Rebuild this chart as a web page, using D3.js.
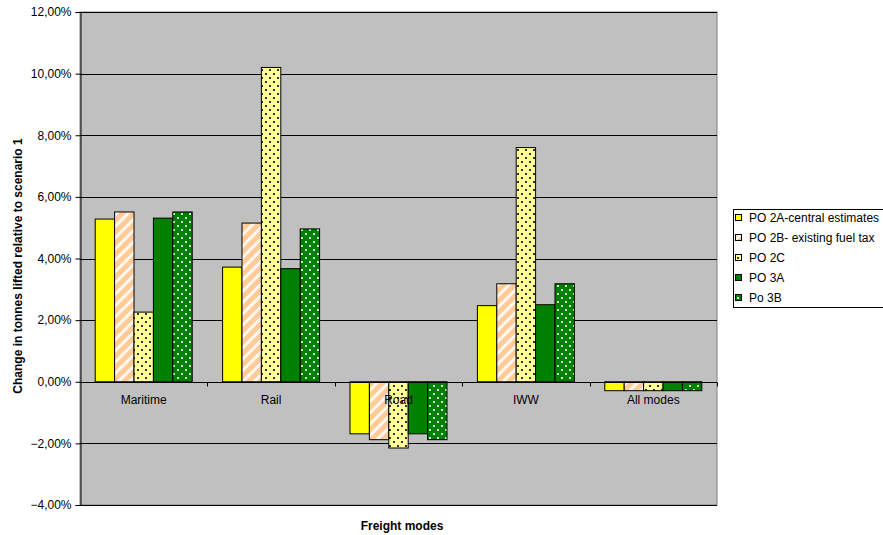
<!DOCTYPE html>
<html><head><meta charset="utf-8">
<script src="https://cdn.jsdelivr.net/npm/d3@7"></script>
<style>body{margin:0;background:#fff}svg{display:block}text{font-family:"Liberation Sans",Arial,sans-serif}</style>
</head><body><svg id="c" width="883" height="535"></svg>
<script>
const categories = ["Maritime","Rail","Road","IWW","All modes"];
const seriesNames = ["PO 2A-central estimates","PO 2B- existing fuel tax","PO 2C","PO 3A","Po 3B"];
const po2A = [5.28, 3.72, -1.69, 2.47, -0.29];
const po2B = [5.51, 5.15, -1.88, 3.18, -0.29];
const po2C = [2.26, 10.2, -2.15, 7.6, -0.29];
const po3A = [5.31, 3.67, -1.69, 2.5, -0.29];
const po3B = [5.51, 4.96, -1.88, 3.18, -0.29];
const yTicks = [-4,-2,0,2,4,6,8,10,12];

const series = [po2A, po2B, po2C, po3A, po3B];
const fills = ["#FFFF00","url(#hatch)","url(#dots)","#008000","url(#wdots)"];

const svg = d3.select("#c");
const L=80, R=717, T=12, B=505;
const defs = svg.append("defs");
const h = defs.append("pattern").attr("id","hatch").attr("patternUnits","userSpaceOnUse").attr("width",8).attr("height",8).attr("patternTransform","rotate(45)");
h.append("rect").attr("width",8).attr("height",8).attr("fill","#FFCC99");
h.append("rect").attr("x",0).attr("width",3).attr("height",8).attr("fill","#FFFFFF").attr("opacity",0.85);
const d = defs.append("pattern").attr("id","dots").attr("patternUnits","userSpaceOnUse").attr("width",8).attr("height",8);
d.append("rect").attr("width",8).attr("height",8).attr("fill","#FFFF99");
d.append("rect").attr("x",1).attr("y",1).attr("width",2).attr("height",2).attr("fill","#333");
d.append("rect").attr("x",5).attr("y",5).attr("width",2).attr("height",2).attr("fill","#333");
const w = defs.append("pattern").attr("id","wdots").attr("patternUnits","userSpaceOnUse").attr("width",8).attr("height",8);
w.append("rect").attr("width",8).attr("height",8).attr("fill","#008000");
w.append("rect").attr("x",1).attr("y",1).attr("width",2).attr("height",2).attr("fill","#cfe8cf");
w.append("rect").attr("x",5).attr("y",5).attr("width",2).attr("height",2).attr("fill","#cfe8cf");

const y = d3.scaleLinear().domain([-4,12]).range([B,T]);
const x0 = d3.scaleBand().domain(categories).range([L,R]).paddingInner(0).paddingOuter(0);
const groupW = 97, off = (x0.bandwidth()-groupW)/2;
const x1 = d3.scaleBand().domain(d3.range(5)).range([off, off+groupW]).paddingInner(0).paddingOuter(0);

svg.append("rect").attr("x",L).attr("y",T).attr("width",R-L).attr("height",B-T).attr("fill","#C0C0C0").attr("stroke","#808080");
svg.append("g").selectAll("line").data(yTicks).join("line")
  .attr("x1",L).attr("x2",R).attr("y1",d=>Math.round(y(d))+0.5).attr("y2",d=>Math.round(y(d))+0.5).attr("stroke","#000").attr("stroke-width",1);

const yAxis = svg.append("g").attr("transform",`translate(${L+0.5},0)`)
  .call(d3.axisLeft(y).tickValues(yTicks).tickSize(5).tickPadding(4).tickFormat(v=>d3.format(".2f")(v).replace(".",",")+"%"));
yAxis.select(".domain").attr("stroke","#000");
yAxis.selectAll("text").attr("font-size",12).attr("fill","#000");
yAxis.selectAll("line").attr("stroke","#000");

// bars
categories.forEach((c,ci)=>{
  series.forEach((s,si)=>{
    const v=s[ci];
    svg.append("rect").attr("x",x0(c)+x1(si)).attr("width",x1.bandwidth())
      .attr("y",y(Math.max(0,v))).attr("height",Math.abs(y(v)-y(0)))
      .attr("fill",fills[si]).attr("stroke","#000").attr("stroke-width",1);
  });
});

const x0line = Math.round(y(0))+0.5;
svg.append("line").attr("x1",L).attr("x2",R).attr("y1",x0line).attr("y2",x0line).attr("stroke","#000");
svg.append("g").selectAll("line").data(categories).join("line")
  .attr("x1",(d,i)=>Math.round(L+(i+1)*x0.bandwidth())+0.5).attr("x2",(d,i)=>Math.round(L+(i+1)*x0.bandwidth())+0.5)
  .attr("y1",x0line).attr("y2",x0line+4).attr("stroke","#000");
svg.append("g").selectAll("text").data(categories).join("text")
  .attr("x",c=>x0(c)+x0.bandwidth()/2).attr("y",x0line+21).attr("text-anchor","middle").attr("font-size",12).text(c=>c);

svg.append("text").attr("x",402).attr("y",530).attr("text-anchor","middle").attr("font-size",12).attr("font-weight","bold").text("Freight modes");
svg.append("text").attr("transform",`translate(22,266) rotate(-90)`).attr("text-anchor","middle").attr("font-size",12).attr("font-weight","bold").text("Change in tonnes lifted relative to scenario 1");

// legend
const lg = svg.append("g");
lg.append("rect").attr("x",733.5).attr("y",209.5).attr("width",160).attr("height",98).attr("fill","#fff").attr("stroke","#000");
seriesNames.forEach((n,i)=>{
  const yy = 218 + i*20;
  lg.append("rect").attr("x",735.5).attr("y",yy-3.5).attr("width",6).attr("height",6).attr("fill",fills[i]).attr("stroke","#000");
  lg.append("text").attr("x",749).attr("y",yy+4).attr("font-size",12).text(n);
});
</script></body></html>
